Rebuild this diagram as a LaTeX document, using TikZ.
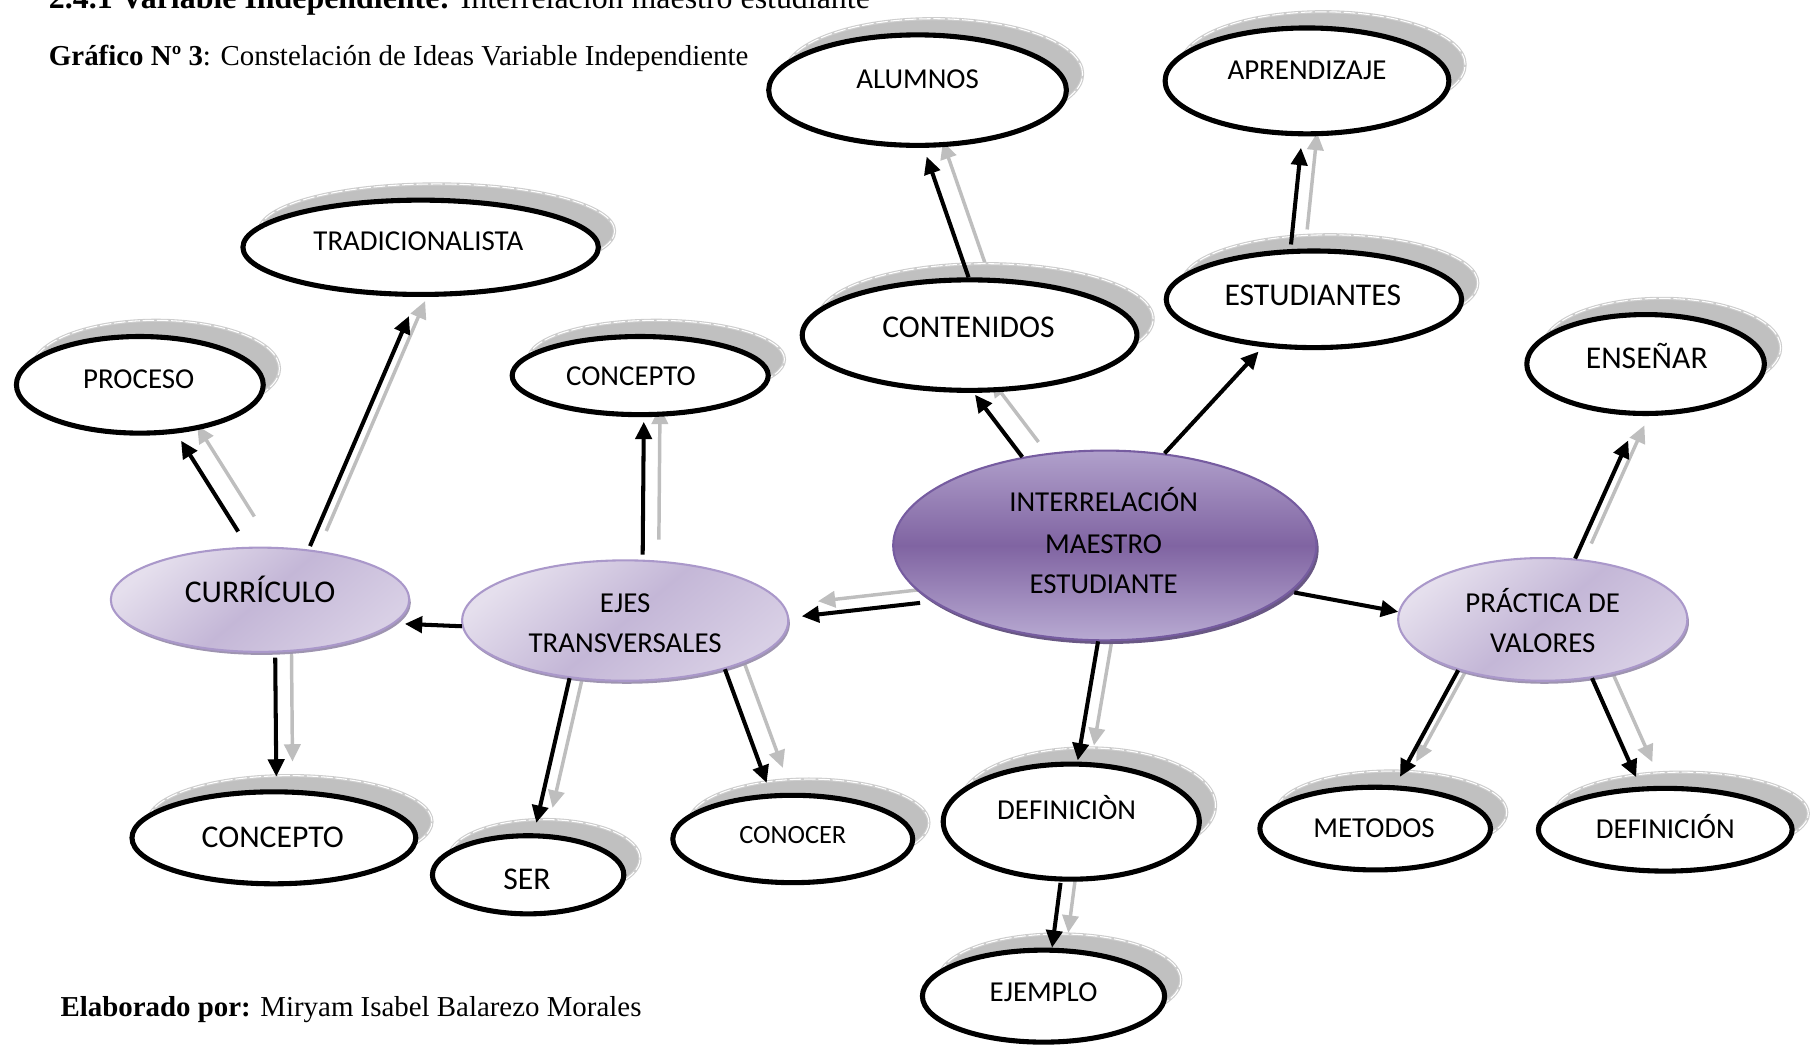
\documentclass[tikz,border=0pt]{standalone}
\usepackage{fontspec}
\setmainfont{Liberation Serif}
\newfontfamily\calfont{Carlito}
\usetikzlibrary{shapes.geometric,arrows.meta,shadows}
\pgfdeclarelayer{bg}
\pgfsetlayers{bg,main}
\definecolor{shgray}{RGB}{192,192,192}
\definecolor{shedge}{RGB}{205,205,205}
\definecolor{arrgray}{RGB}{190,190,190}
\definecolor{lavL}{RGB}{229,223,237}
\definecolor{lavD}{RGB}{196,183,215}
\definecolor{lavM}{RGB}{216,207,229}
\definecolor{lavborder}{RGB}{170,152,202}
\definecolor{lavshadow}{RGB}{158,148,176}
\definecolor{purA}{RGB}{176,160,203}
\definecolor{purB}{RGB}{128,100,162}
\definecolor{purC}{RGB}{184,170,210}
\definecolor{purborder}{RGB}{118,92,160}
\definecolor{purshadow}{RGB}{105,88,132}
\begin{document}
\begin{tikzpicture}[x=0.5pt,y=-0.5pt,
  wnode/.style={ellipse, draw=black, line width=2.2pt, fill=white, inner sep=0pt,
    drop shadow={shadow xshift=7pt, shadow yshift=7pt, fill=shgray, draw=shedge, line width=1.4pt, opacity=1},
    general shadow={shadow xshift=7pt, shadow yshift=7pt, draw=white, line width=0.45pt, dash pattern=on 5pt off 1.2pt}},
  lnode/.style={ellipse, draw=lavborder, line width=0.9pt, inner sep=0pt,
    top color=lavL, bottom color=lavM, middle color=lavD, shading angle=40,
    drop shadow={shadow xshift=0.7pt, shadow yshift=-1.3pt, fill=lavshadow, opacity=1}},
  inode/.style={ellipse, draw=purborder, line width=0.9pt, inner sep=0pt,
    top color=purA, bottom color=purC, middle color=purB,
    drop shadow={shadow xshift=1pt, shadow yshift=-1.6pt, fill=purshadow, opacity=1}},
  lab/.style={anchor=base, inner sep=0pt, font=\calfont\fontsize{12.5}{15}\selectfont},
  labL/.style={anchor=base, inner sep=0pt, font=\calfont\fontsize{13.7}{16}\selectfont},
  labS/.style={anchor=base, inner sep=0pt, font=\calfont\fontsize{11.4}{14}\selectfont},
  barr/.style={draw=black, line width=1.75pt, -{Triangle[length=7.5pt,width=7pt]}},
  garr/.style={draw=arrgray, line width=1.5pt, -{Triangle[length=7.5pt,width=7pt]}, transform canvas={shift={(7pt,6.5pt)}}},
  serif/.style={anchor=base west, inner sep=0pt, font=\fontsize{12.5}{15}\selectfont}
]
\useasboundingbox (0,0) rectangle (1568,908);

% header / footer texts
\node[serif, font=\fontsize{13.8}{16}\selectfont] (head) at (42,7) {\textbf{2.4.1 Variable Independiente:} Interrelación maestro estudiante};
\node[serif] (graf) at (42,57) {\textbf{Gráfico Nº 3}: Constelación de Ideas Variable Independiente};
\node[serif] (elab) at (52,880) {\textbf{Elaborado por:} Miryam Isabel Balarezo Morales};

% white nodes
\node[wnode, minimum width=128.8pt, minimum height=47.8pt] (alum) at (794,78) {};
\node[wnode, minimum width=122.8pt, minimum height=45.8pt] (apr) at (1131,70) {};
\node[wnode, minimum width=153.8pt, minimum height=40.8pt] (trad) at (364,214) {};
\node[wnode, minimum width=106.8pt, minimum height=41.8pt] (proc) at (121,333) {};
\node[wnode, minimum width=110.8pt, minimum height=33.8pt] (conc1) at (554,325) {};
\node[wnode, minimum width=144.8pt, minimum height=47.8pt] (cont) at (839,290) {};
\node[wnode, minimum width=127.8pt, minimum height=41.8pt] (est) at (1137,259) {};
\node[wnode, minimum width=102.8pt, minimum height=42.8pt] (ens) at (1424,315) {};
\node[wnode, minimum width=122.8pt, minimum height=39.8pt] (conc2) at (237,725) {};
\node[wnode, minimum width=82.8pt, minimum height=33.8pt] (ser) at (457,757) {};
\node[wnode, minimum width=103.8pt, minimum height=37.8pt] (conoc) at (686,726) {};
\node[wnode, minimum width=110.8pt, minimum height=49.8pt] (def1) at (927,711) {};
\node[wnode, minimum width=104.8pt, minimum height=39.8pt] (ejem) at (903,862) {};
\node[wnode, minimum width=99.8pt, minimum height=35.8pt] (met) at (1190,717) {};
\node[wnode, minimum width=109.8pt, minimum height=35.8pt] (def2) at (1441,718) {};

% purple nodes
\node[inode, minimum width=183.1pt, minimum height=82.1pt] (int) at (956,472) {};
\node[lnode, minimum width=129.1pt, minimum height=45.1pt] (cur) at (225,519) {};
\node[lnode, minimum width=141.1pt, minimum height=52.1pt] (ejes) at (541,537) {};
\node[lnode, minimum width=125.1pt, minimum height=53.1pt] (pra) at (1335,536) {};

% labels
\node[lab] (alum-t) at (794,77) {ALUMNOS};
\node[lab] (apr-t) at (1131,69) {APRENDIZAJE};
\node[lab] (trad-t) at (362,217) {TRADICIONALISTA};
\node[lab] (proc-t) at (120,336) {PROCESO};
\node[lab] (conc1-t) at (546,334) {CONCEPTO};
\node[labL] (cont-t) at (838,292) {CONTENIDOS};
\node[labL] (est-t) at (1136,264) {ESTUDIANTES};
\node[labL] (ens-t) at (1425,319) {ENSEÑAR};
\node[labL] (conc2-t) at (236,733) {CONCEPTO};
\node[labL] (ser-t) at (456,770) {SER};
\node[labS] (conoc-t) at (686,730) {CONOCER};
\node[lab] (def1-t) at (923,709) {DEFINICIÒN};
\node[lab] (ejem-t) at (903,867) {EJEMPLO};
\node[lab] (met-t) at (1189,725) {METODOS};
\node[lab] (def2-t) at (1441,726) {DEFINICIÓN};
\node[lab] (int-t1) at (955,443) {INTERRELACIÓN};
\node[lab] (int-t2) at (955,479) {MAESTRO};
\node[lab] (int-t3) at (955,514) {ESTUDIANTE};
\node[labL] (cur-t) at (225,521) {CURRÍCULO};
\node[lab] (ejes-t1) at (541,530) {EJES};
\node[lab] (ejes-t2) at (541,565) {TRANSVERSALES};
\node[lab] (pra-t1) at (1335,530) {PRÁCTICA DE};
\node[lab] (pra-t2) at (1335,565) {VALORES};

% gray shadow arrows (behind nodes)
\begin{pgfonlayer}{bg}
\draw[garr, shorten <=7.8pt, shorten >=3.7pt] (cur.103.8) -- (proc.-53.1);
\draw[garr, shorten <=1.6pt, shorten >=9pt] (cur.46.9) -- (trad.266.25);
\draw[garr, shorten <=2.2pt, shorten >=5.5pt] (cur.-74.4) -- (conc2.87.8);
\draw[garr, shorten <=2.2pt, shorten >=2pt] (ejes.74.3) -- (conc1.-85.7);
\draw[garr, shorten >=4.6pt] (ejes.226.8) -- (ser.82.4);
\draw[garr, shorten >=4.9pt] (ejes.-26.6) -- (conoc.116.6);
\draw[garr, shorten <=5.3pt, shorten >=5.5pt] (int.198.1) -- (ejes.1.1);
\draw[garr, shorten >=1pt] (int.133.1) -- (cont.-86.7);
\draw[garr, shorten >=0.5pt] (int.-94.1) -- (def1.84.6);
\draw[garr, shorten >=4pt] (cont.91.1) -- (alum.-84.1);
\draw[garr, shorten <=2pt, shorten >=5pt] (est.115.1) -- (apr.-95.9);
\draw[garr, shorten >=11.6pt] (pra.62.15) -- (ens.-97.5);
\draw[garr, shorten >=4.2pt] (pra.211.1) -- (met.65);
\draw[garr, shorten >=4.5pt] (pra.-50.6) -- (def2.120);
\draw[garr, shorten <=0.6pt] (def1.-100.7) -- (ejem.80.5);
\end{pgfonlayer}

% black arrows
\draw[barr, shorten <=7.8pt, shorten >=3.7pt] (cur.103.8) -- (proc.-53.1);
\draw[barr, shorten <=1.6pt, shorten >=9pt] (cur.46.9) -- (trad.266.25);
\draw[barr, shorten <=2.2pt, shorten >=5.5pt] (cur.-74.4) -- (conc2.87.8);
\draw[barr, shorten >=4.5pt] (ejes.182) -- (cur.-10.5);
\draw[barr, shorten <=2.2pt, shorten >=2pt] (ejes.74.3) -- (conc1.-85.7);
\draw[barr, shorten >=4.6pt] (ejes.226.8) -- (ser.82.4);
\draw[barr, shorten >=4.9pt] (ejes.-26.6) -- (conoc.116.6);
\draw[barr, shorten <=5.3pt, shorten >=5.5pt] (int.198.1) -- (ejes.1.1);
\draw[barr, shorten >=1pt] (int.133.1) -- (cont.-86.7);
\draw[barr, shorten >=2.6pt] (int.57) -- (est.223.15);
\draw[barr, shorten <=1.5pt] (int.-14) -- (pra.177.3);
\draw[barr, shorten >=0.5pt] (int.-94.1) -- (def1.84.6);
\draw[barr, shorten >=4pt] (cont.91.1) -- (alum.-84.1);
\draw[barr, shorten <=2pt, shorten >=5pt] (est.115.1) -- (apr.-95.9);
\draw[barr, shorten >=11.6pt] (pra.62.15) -- (ens.-97.5);
\draw[barr, shorten >=4.2pt] (pra.211.1) -- (met.65);
\draw[barr, shorten >=4.5pt] (pra.-50.6) -- (def2.120);
\draw[barr, shorten <=0.6pt] (def1.-100.7) -- (ejem.80.5);
\end{tikzpicture}
\end{document}
